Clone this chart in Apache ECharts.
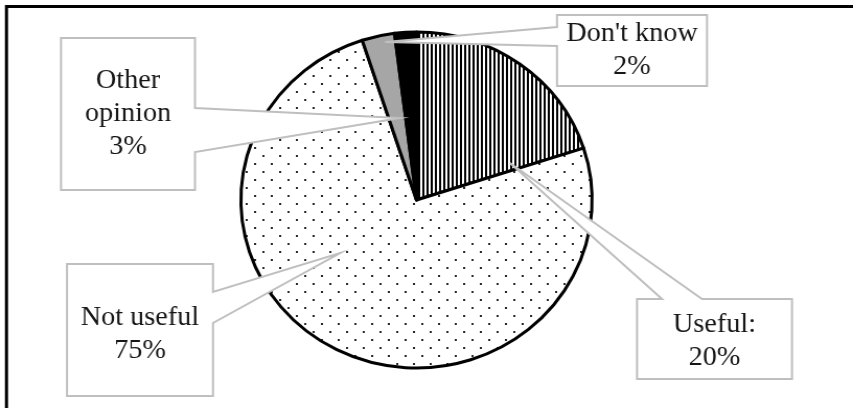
<!DOCTYPE html>
<html>
<head>
<meta charset="utf-8">
<script src="https://cdn.jsdelivr.net/npm/echarts@6/dist/echarts.min.js"></script>
<style>
  html, body { margin: 0; padding: 0; background: #fff; overflow: hidden; }
  #frame { width: 853px; height: 408px; overflow: hidden; }
  /* the figure is drawn a little narrower and widened to the page width */
  #chart { width: 816px; height: 408px; transform: scaleX(1.04534); transform-origin: 0 0; }
</style>
</head>
<body>
<div id="frame"><div id="chart"></div></div>
<script>
// Survey answers, share of respondents (%)
const categories = ['Useful', 'Not useful', 'Other opinion', "Don't know"];
const shares = [20, 75, 3, 2];
const labelTexts = ['Useful:', 'Not useful', 'Other\nopinion', "Don't know"];

const STRETCH = 853 / 816;
const sx = x => x / STRETCH;   // page x -> drawing x

// Hatch fills drawn once into small tiles
function stripeTile() {
  const c = document.createElement('canvas');
  c.width = 4; c.height = 4;
  const g = c.getContext('2d');
  g.fillStyle = '#fff'; g.fillRect(0, 0, 4, 4);
  g.fillStyle = '#000'; g.fillRect(0, 0, 2, 4);
  return c;
}
function dotTile() {
  const c = document.createElement('canvas');
  c.width = 16; c.height = 16;
  const g = c.getContext('2d');
  g.fillStyle = '#fff'; g.fillRect(0, 0, 16, 16);
  g.fillStyle = '#2a2a2a';
  g.fillRect(3, 3, 2, 2);
  g.fillRect(11, 11, 2, 2);
  return c;
}

const fills = [
  { image: stripeTile(), repeat: 'repeat' },
  { image: dotTile(), repeat: 'repeat' },
  '#a6a6a6',
  '#000000'
];

const chart = echarts.init(document.getElementById('chart'), null, { renderer: 'canvas' });

chart.setOption({
  animation: false,
  backgroundColor: '#fff',
  series: [{
    type: 'pie',
    center: [sx(416.5), 200],
    radius: 168,
    startAngle: 90,
    clockwise: true,
    silent: true,
    label: { show: false },
    labelLine: { show: false },
    emphasis: { disabled: true },
    itemStyle: { borderColor: '#000', borderWidth: 3 },
    data: categories.map((name, i) => ({
      name: name,
      value: shares[i],
      itemStyle: { color: fills[i] }
    }))
  }]
});

// Callout boxes (page px): box [x1, y1, x2, y2], side carrying the pointer, pointer base,
// pointer tip as (fraction along the slice angle, fraction of the radius), text nudge
const callouts = [
  { box: [637, 299, 792, 379], side: 'top',   base: [662, 702], tipAt: [0.9375, 0.576], dy: 2 },
  { box: [67, 264, 213, 396],  side: 'right', base: [292, 323], tipAt: [0.600, 0.538],  dy: 4 },
  { box: [61, 38, 195, 190],   side: 'right', base: [108, 152], tipAt: [0.66, 0.497],   dy: 0 },
  { box: [557, 15, 707, 86],   side: 'left',  base: [27, 46],   tipAt: [-0.5, 0.957],   dy: 0 }
];

const pieData = chart.getModel().getSeriesByIndex(0).getData();

function tipPoint(i, f, rf) {
  const L = pieData.getItemLayout(i);
  const a = L.startAngle + f * (L.endAngle - L.startAngle);
  return [L.cx + rf * L.r * Math.cos(a), L.cy + rf * L.r * Math.sin(a)];
}

function outline(c, t) {
  const x1 = sx(c.box[0]), x2 = sx(c.box[2]);
  const y1 = c.box[1], y2 = c.box[3];
  const [b0, b1] = c.base;
  if (c.side === 'top') {
    return [[x1, y1], [sx(b0), y1], t, [sx(b1), y1], [x2, y1], [x2, y2], [x1, y2]];
  }
  if (c.side === 'right') {
    return [[x1, y1], [x2, y1], [x2, b0], t, [x2, b1], [x2, y2], [x1, y2]];
  }
  return [[x1, y1], [x2, y1], [x2, y2], [x1, y2], [x1, b1], t, [x1, b0]];
}

const graphics = [{
  type: 'rect',
  z: 20,
  shape: { x: sx(6.5), y: 6.5, width: 900, height: 500 },
  style: { fill: 'none', stroke: '#000', lineWidth: 3 }
}];

callouts.forEach((c, i) => {
  const t = tipPoint(i, c.tipAt[0], c.tipAt[1]);
  graphics.push({
    type: 'polygon',
    z: 10,
    shape: { points: outline(c, t) },
    style: { fill: '#fff', stroke: '#bfbfbf', lineWidth: 2 }
  });
  graphics.push({
    type: 'text',
    z: 11,
    x: sx((c.box[0] + c.box[2]) / 2),
    y: (c.box[1] + c.box[3]) / 2 + c.dy,
    style: {
      text: labelTexts[i] + '\n' + shares[i] + '%',
      font: '27px "Liberation Serif", "Times New Roman", serif',
      fill: '#161616',
      align: 'center',
      verticalAlign: 'middle',
      lineHeight: 33
    }
  });
});

chart.setOption({ graphic: graphics });
</script>
</body>
</html>
